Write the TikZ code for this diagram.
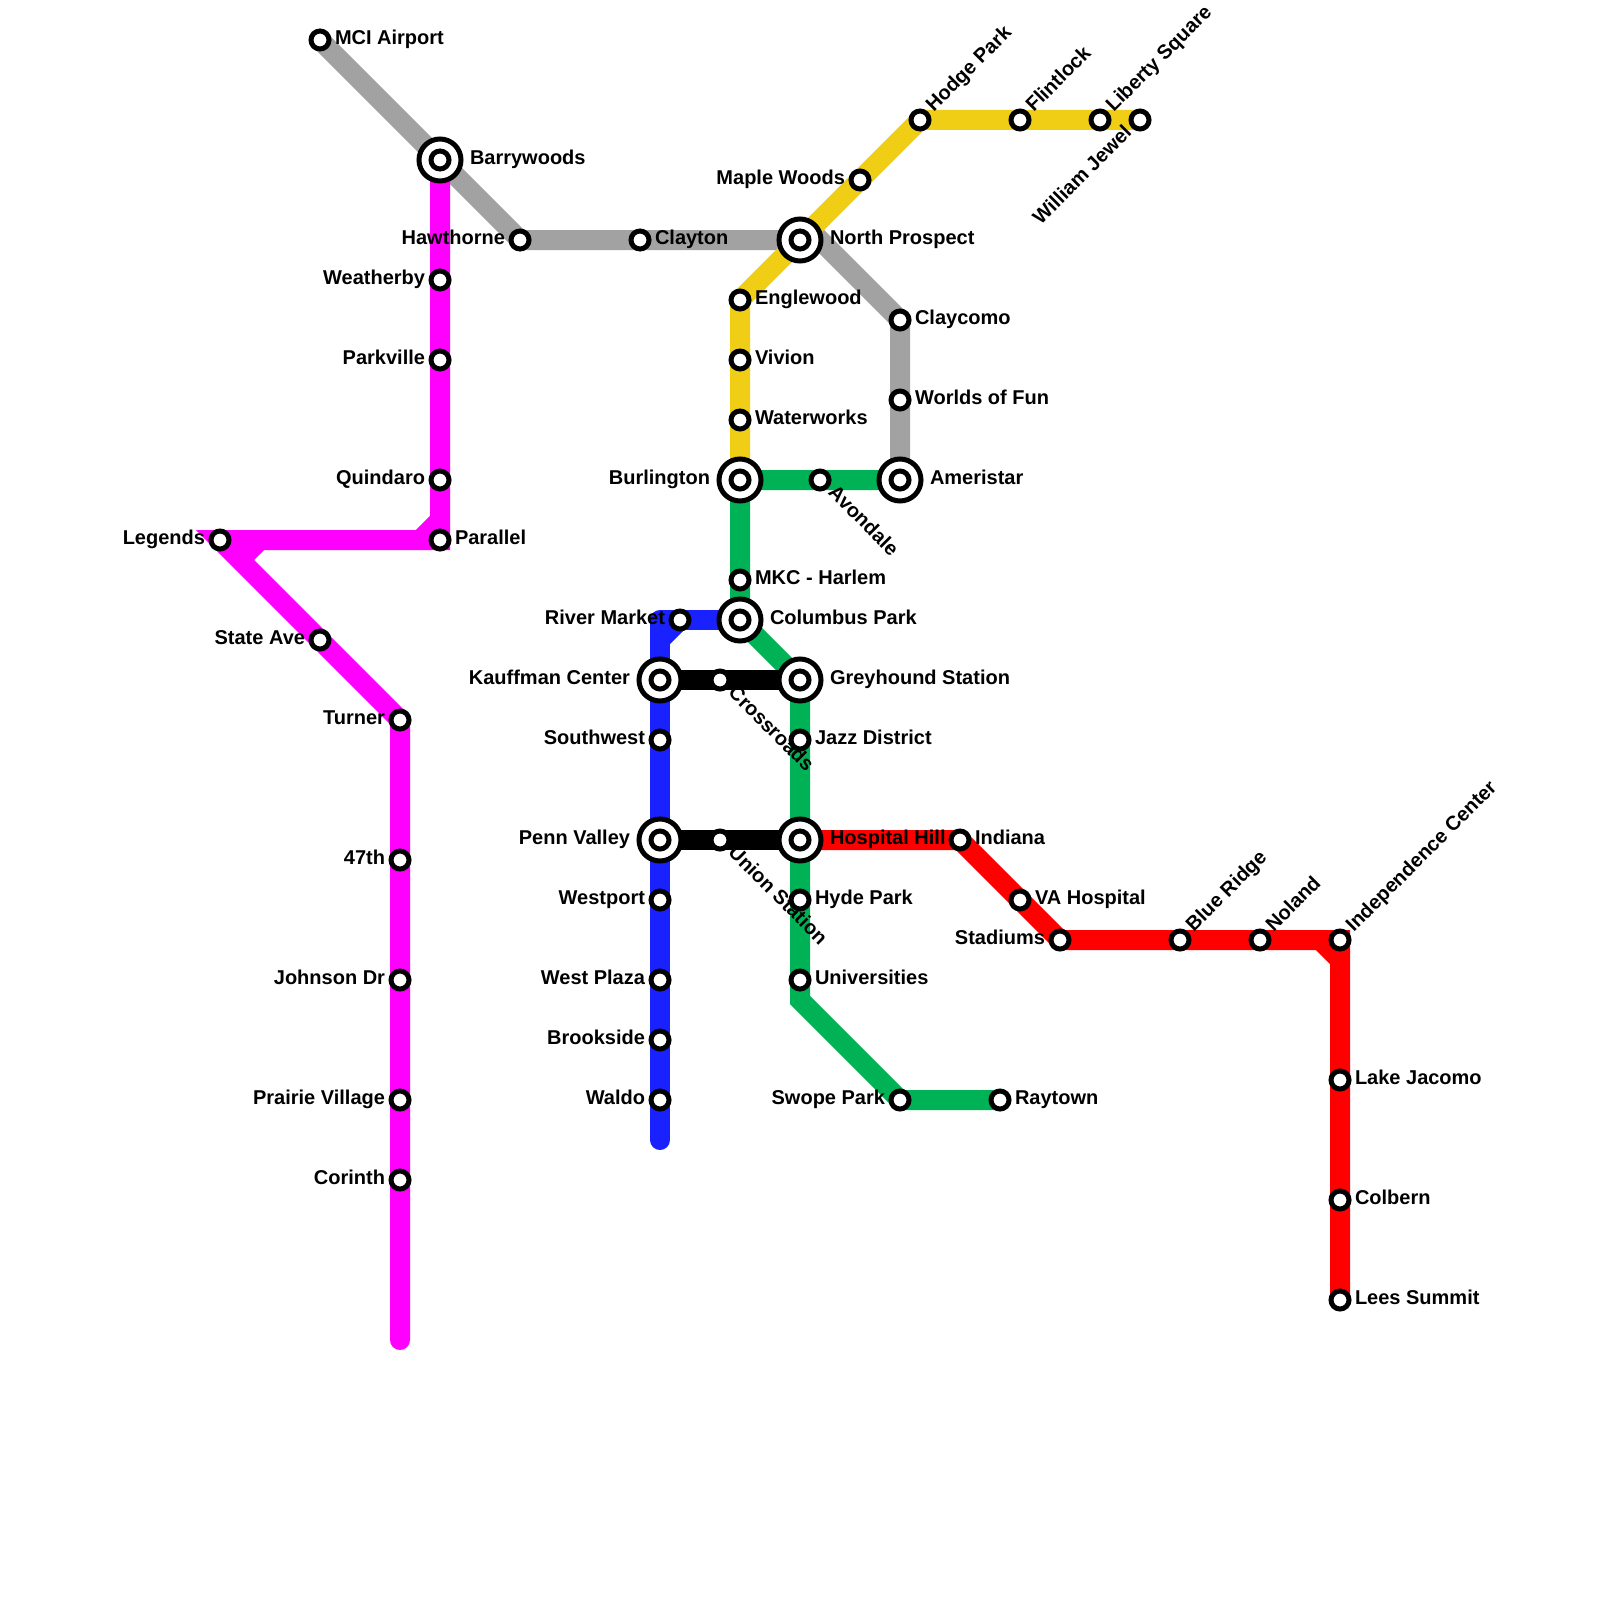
\documentclass[tikz,border=0pt]{standalone}
\usepackage{fontspec}
\setmainfont{Liberation Sans}
\usetikzlibrary{backgrounds}
\definecolor{cMag}{HTML}{FF00FF}
\definecolor{cBlue}{HTML}{1A21FF}
\definecolor{cGreen}{HTML}{00B256}
\definecolor{cYellow}{HTML}{F0CE15}
\definecolor{cGray}{HTML}{A2A2A2}
\definecolor{cRed}{HTML}{FF0000}
\tikzset{
  stop/.style={circle,draw=black,fill=white,line width=5pt,minimum size=18pt,inner sep=0pt,outer sep=0pt},
  hub/.style={circle,draw=black,fill=white,line width=5pt,minimum size=42pt,inner sep=0pt,outer sep=0pt},
  route/.style={line width=20pt,line cap=round,line join=miter},
  chamfer/.style={line width=20pt,line cap=butt},
  lbl/.style={font=\fontsize{20pt}{24pt}\bfseries\selectfont,text=black,inner sep=0pt,outer sep=0pt},
  lblR/.style={lbl,anchor=base west,xshift=15pt,yshift=-4.5pt},
  lblL/.style={lbl,anchor=base east,xshift=-15pt,yshift=-4.5pt},
  lblHR/.style={lbl,anchor=base west,xshift=30pt,yshift=-4.5pt},
  lblHL/.style={lbl,anchor=base east,xshift=-30pt,yshift=-4.5pt},
  lblU/.style={lbl,anchor=base west,xshift=13.8pt,yshift=7.4pt,rotate=45},
  lblUL/.style={lbl,anchor=base east,xshift=-7.4pt,yshift=-13.8pt,rotate=45},
  lblD/.style={lbl,anchor=base west,xshift=7.4pt,yshift=-13.8pt,rotate=-45},
}
\newcommand{\stn}[5]{\node[stop] (#1) at (#2,#3) {}; \node[lbl#4] (#1-t) at (#1) {#5};}
\newcommand{\hubn}[5]{\node[hub] (#1) at (#2,#3) {}; \node[stop] (#1-i) at (#1) {}; \node[lbl#4] (#1-t) at (#1) {#5};}
\begin{document}
\begin{tikzpicture}[x=1pt,y=-1pt]
\useasboundingbox (0,0) rectangle (1600,1600);
% stations
\stn{mci}{320}{40}{R}{MCI Airport}
\hubn{barry}{440}{160}{HR}{Barrywoods}
\stn{haw}{520}{240}{L}{Hawthorne}
\stn{clay}{640}{240}{R}{Clayton}
\hubn{north}{800}{240}{HR}{North Prospect}
\stn{maple}{860}{180}{L}{Maple Woods}
\stn{hodge}{920}{120}{U}{Hodge Park}
\stn{flint}{1020}{120}{U}{Flintlock}
\stn{liberty}{1100}{120}{U}{Liberty Square}
\stn{jewel}{1140}{120}{UL}{William Jewel}
\stn{engle}{740}{300}{R}{Englewood}
\stn{vivion}{740}{360}{R}{Vivion}
\stn{water}{740}{420}{R}{Waterworks}
\hubn{burl}{740}{480}{HL}{Burlington}
\stn{avon}{820}{480}{D}{Avondale}
\hubn{amer}{900}{480}{HR}{Ameristar}
\stn{claycomo}{900}{320}{R}{Claycomo}
\stn{worlds}{900}{400}{R}{Worlds of Fun}
\stn{mkc}{740}{580}{R}{MKC - Harlem}
\hubn{colum}{740}{620}{HR}{Columbus Park}
\stn{river}{680}{620}{L}{River Market}
\hubn{kauf}{660}{680}{HL}{Kauffman Center}
\stn{cross}{720}{680}{D}{Crossroads}
\hubn{grey}{800}{680}{HR}{Greyhound Station}
\stn{south}{660}{740}{L}{Southwest}
\stn{jazz}{800}{740}{R}{Jazz District}
\hubn{penn}{660}{840}{HL}{Penn Valley}
\stn{union}{720}{840}{D}{Union Station}
\hubn{hosp}{800}{840}{HR}{Hospital Hill}
\stn{indiana}{960}{840}{R}{Indiana}
\stn{va}{1020}{900}{R}{VA Hospital}
\stn{stad}{1060}{940}{L}{Stadiums}
\stn{blue}{1180}{940}{U}{Blue Ridge}
\stn{noland}{1260}{940}{U}{Noland}
\stn{indep}{1340}{940}{U}{Independence Center}
\stn{lake}{1340}{1080}{R}{Lake Jacomo}
\stn{colb}{1340}{1200}{R}{Colbern}
\stn{lees}{1340}{1300}{R}{Lees Summit}
\stn{west}{660}{900}{L}{Westport}
\stn{hyde}{800}{900}{R}{Hyde Park}
\stn{plaza}{660}{980}{L}{West Plaza}
\stn{univ}{800}{980}{R}{Universities}
\stn{brook}{660}{1040}{L}{Brookside}
\stn{waldo}{660}{1100}{L}{Waldo}
\stn{swope}{900}{1100}{L}{Swope Park}
\stn{ray}{1000}{1100}{R}{Raytown}
\stn{legends}{220}{540}{L}{Legends}
\stn{parallel}{440}{540}{R}{Parallel}
\stn{quin}{440}{480}{L}{Quindaro}
\stn{park}{440}{360}{L}{Parkville}
\stn{weather}{440}{280}{L}{Weatherby}
\stn{turner}{400}{720}{L}{Turner}
\stn{state}{320}{640}{L}{State Ave}
\stn{fortyseven}{400}{860}{L}{47th}
\stn{johnson}{400}{980}{L}{Johnson Dr}
\stn{prairie}{400}{1100}{L}{Prairie Village}
\stn{corinth}{400}{1180}{L}{Corinth}
% free points
\coordinate (magEnd) at (400,1340);
\coordinate (magA) at (440,520);
\coordinate (magB) at (420,540);
\coordinate (magC) at (240,560);
\coordinate (magD) at (260,540);
\coordinate (bluEnd) at (660,1140);
\coordinate (bluCorner) at (660,620);
\coordinate (bluA) at (660,640);
\coordinate (grayBend) at (820,240);
\coordinate (grnBend) at (800,1000);
\coordinate (redA) at (1320,940);
\coordinate (redB) at (1340,960);
\begin{scope}[on background layer]
\draw[route,cGray] (mci.center) -- (barry.center) -- (haw.center) -- (clay.center) -- (grayBend) -- (claycomo.center) -- (worlds.center) -- (amer.center);
\draw[route,cYellow] (water.center) -- (burl.center);
\draw[route,cYellow] (burl.center) -- (water.center) -- (vivion.center) -- (engle.center) -- (north.center) -- (maple.center) -- (hodge.center) -- (flint.center) -- (liberty.center) -- (jewel.center);
\draw[route,cMag] (barry.center) -- (weather.center) -- (park.center) -- (quin.center) -- (parallel.center) -- (legends.center) -- (state.center) -- (turner.center) -- (fortyseven.center) -- (johnson.center) -- (prairie.center) -- (corinth.center) -- (magEnd);
\draw[chamfer,cMag] (magA) -- (magB);
\draw[chamfer,cMag] (magC) -- (magD);
\draw[route,cBlue,line join=round] (bluEnd) -- (waldo.center) -- (brook.center) -- (plaza.center) -- (west.center) -- (penn.center) -- (south.center) -- (kauf.center) -- (bluCorner) -- (river.center) -- (colum.center);
\draw[chamfer,cBlue] (bluA) -- (river.center);
\draw[route,cGreen] (amer.center) -- (avon.center) -- (burl.center) -- (mkc.center) -- (colum.center) -- (grey.center) -- (jazz.center) -- (hosp.center) -- (hyde.center) -- (univ.center) -- (grnBend) -- (swope.center) -- (ray.center);
\draw[route,cRed] (hosp.center) -- (indiana.center) -- (va.center) -- (stad.center) -- (blue.center) -- (noland.center) -- (indep.center) -- (lake.center) -- (colb.center) -- (lees.center);
\draw[chamfer,cRed] (redA) -- (redB);
\draw[route,black] (kauf.center) -- (cross.center) -- (grey.center);
\draw[route,black] (penn.center) -- (union.center) -- (hosp.center);
\end{scope}
\end{tikzpicture}
\end{document}
